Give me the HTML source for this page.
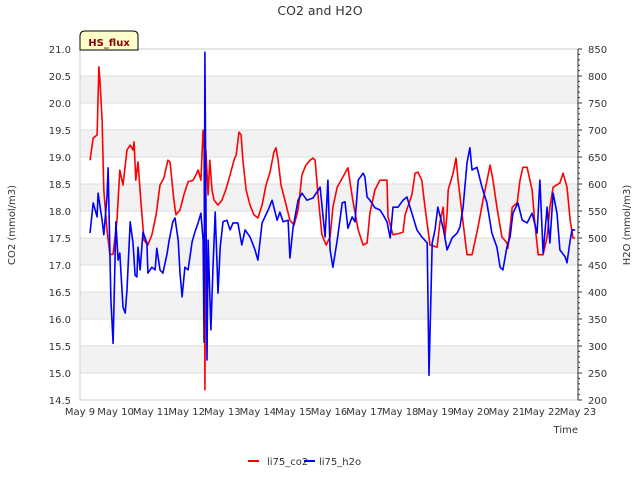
<!DOCTYPE html>
<html><head><meta charset="utf-8"><style>
body{margin:0;background:#fff;}
svg{display:block;font-family:"DejaVu Sans","Liberation Sans",sans-serif;}
</style></head><body>
<svg id="chart" width="640" height="480">
<text x="320" y="15" text-anchor="middle" font-size="12.5" fill="#333">CO2 and H2O</text>
<g id="bands"></g><g id="grid"></g>
<rect x="80" y="49" width="498" height="351" fill="none" stroke="#ccc"/>
<g id="axes"></g>
<g id="series"></g>
<g>
<path d="M80,50 L80,36 Q80,31 85,31 L133,31 Q138,31 138,36 L138,50 Z" fill="#ffffcc" stroke="#000"/>
<text x="109" y="46" text-anchor="middle" font-size="10" font-weight="bold" fill="#8b0000">HS_flux</text>
</g>
<text x="15" y="225" transform="rotate(-90 15 225)" text-anchor="middle" font-size="10" fill="#333">CO2 (mmol/m3)</text>
<text x="630" y="225" transform="rotate(-90 630 225)" text-anchor="middle" font-size="10" fill="#333">H2O (mmol/m3)</text>
<text x="578" y="433" text-anchor="end" font-size="10" fill="#333">Time</text>
<g>
<g><line x1="248" y1="461" x2="259" y2="461" stroke="#f00" stroke-width="2"/><text x="267" y="465" font-size="10" fill="#333">li75_co2</text></g>
<g><line x1="304" y1="461" x2="315" y2="461" stroke="#00f" stroke-width="2"/><text x="319" y="465" font-size="10" fill="#333">li75_h2o</text></g>
</g>
</svg>
<script>
const xTickLabels=["May 9","May 10","May 11","May 12","May 13","May 14","May 15","May 16","May 17","May 18","May 19","May 20","May 21","May 22","May 23"];
const leftTicks=[14.5,15.0,15.5,16.0,16.5,17.0,17.5,18.0,18.5,19.0,19.5,20.0,20.5,21.0];
const rightTicks=[200,250,300,350,400,450,500,550,600,650,700,750,800,850];
const co2Days=[0.28,0.37,0.48,0.53,0.56,0.62,0.67,0.76,0.84,0.93,1.04,1.12,1.21,1.32,1.41,1.49,1.52,1.57,1.63,1.71,1.80,1.91,2.02,2.14,2.25,2.36,2.47,2.53,2.64,2.70,2.81,2.92,3.04,3.18,3.26,3.32,3.40,3.46,3.49,3.51,3.54,3.60,3.65,3.71,3.77,3.88,3.99,4.10,4.22,4.33,4.39,4.47,4.53,4.58,4.67,4.78,4.89,5.00,5.12,5.23,5.34,5.45,5.51,5.57,5.65,5.76,5.90,6.02,6.13,6.24,6.35,6.47,6.55,6.61,6.69,6.80,6.92,7.03,7.11,7.23,7.39,7.53,7.67,7.82,7.96,8.07,8.15,8.29,8.43,8.63,8.66,8.80,9.00,9.08,9.14,9.33,9.42,9.50,9.61,9.70,9.84,10.04,10.12,10.21,10.26,10.32,10.35,10.49,10.57,10.63,10.77,10.88,11.02,11.05,11.19,11.33,11.53,11.61,11.72,11.86,12.00,12.03,12.15,12.29,12.37,12.45,12.57,12.71,12.79,12.88,13.02,13.13,13.21,13.30,13.49,13.58,13.69,13.78,13.86,13.92];
const co2Values=[18.94,19.35,19.41,20.67,20.43,19.69,18.39,17.65,17.19,17.20,17.83,18.76,18.48,19.13,19.22,19.13,19.28,18.57,18.91,18.20,17.46,17.37,17.56,17.93,18.48,18.61,18.94,18.91,18.20,17.93,18.02,18.30,18.54,18.57,18.67,18.76,18.57,19.50,19.13,14.69,19.13,18.30,18.94,18.39,18.20,18.11,18.20,18.39,18.67,18.94,19.04,19.46,19.41,18.94,18.39,18.11,17.93,17.87,18.11,18.48,18.72,19.09,19.17,18.94,18.48,18.20,17.83,17.74,18.02,18.67,18.85,18.94,18.98,18.94,18.30,17.56,17.37,17.52,18.07,18.44,18.63,18.80,18.20,17.65,17.37,17.41,17.96,18.39,18.57,18.57,17.89,17.56,17.59,17.61,17.93,18.30,18.70,18.72,18.57,18.07,17.37,17.33,17.80,18.07,17.52,17.96,18.39,18.70,18.98,18.57,17.78,17.19,17.19,17.28,17.70,18.20,18.85,18.57,18.07,17.52,17.41,17.31,18.07,18.15,18.57,18.81,18.81,18.39,17.74,17.19,17.19,17.52,18.07,18.44,18.52,18.70,18.44,17.83,17.50,17.50];
const h2oDays=[0.28,0.37,0.48,0.51,0.62,0.67,0.76,0.79,0.87,0.93,1.01,1.07,1.12,1.21,1.27,1.32,1.41,1.49,1.55,1.60,1.63,1.69,1.77,1.88,1.91,2.02,2.11,2.16,2.25,2.33,2.45,2.50,2.61,2.67,2.76,2.81,2.87,2.95,3.04,3.15,3.23,3.32,3.40,3.46,3.49,3.51,3.57,3.60,3.68,3.74,3.80,3.85,3.88,3.94,4.02,4.13,4.22,4.30,4.44,4.55,4.64,4.78,4.92,5.00,5.12,5.29,5.40,5.54,5.62,5.71,5.85,5.90,5.99,6.13,6.24,6.38,6.55,6.75,6.89,6.97,7.03,7.11,7.23,7.37,7.45,7.53,7.65,7.73,7.82,7.96,8.01,8.07,8.15,8.29,8.43,8.52,8.63,8.72,8.80,8.94,9.08,9.19,9.33,9.47,9.61,9.76,9.81,9.90,9.98,10.06,10.21,10.32,10.46,10.60,10.68,10.77,10.88,10.96,11.02,11.16,11.30,11.44,11.58,11.72,11.81,11.89,12.00,12.09,12.17,12.31,12.43,12.57,12.71,12.85,12.93,13.02,13.13,13.21,13.30,13.41,13.49,13.64,13.69,13.78,13.83,13.92];
const h2oValues=[509,565,539,583,533,506,576,630,385,305,530,459,472,372,361,404,530,491,431,428,483,441,511,491,435,446,441,481,441,435,472,493,530,537,496,435,391,446,441,493,511,528,546,496,307,844,274,496,330,446,548,459,398,483,530,533,515,528,528,487,515,502,478,459,528,552,570,533,548,530,533,463,520,570,583,570,574,594,502,607,478,446,496,565,567,518,539,530,607,620,613,576,570,556,552,543,530,500,557,557,570,576,546,515,502,491,246,491,515,557,518,478,500,509,520,557,639,667,626,631,594,565,509,483,446,441,483,502,546,565,533,528,546,509,607,472,557,491,583,546,478,465,454,496,515,515];

const NS="http://www.w3.org/2000/svg";
const X0=80,X1=578,Y0=49,Y1=400;
function xs(d){return X0+d*(X1-X0)/14;}
function yl(v){return Y0+(21-v)*(Y1-Y0)/6.5;}
function yr(v){return Y0+(850-v)*(Y1-Y0)/650;}
function mk(tag,attrs,parent){const e=document.createElementNS(NS,tag);for(const k in attrs)e.setAttribute(k,attrs[k]);parent.appendChild(e);return e;}
const bands=document.getElementById('bands'),grid=document.getElementById('grid'),axes=document.getElementById('axes'),series=document.getElementById('series');
for(let i=0;i<leftTicks.length-1;i++){
  if(i%2===1){
    const r=mk('rect',{x:X0,y:yl(leftTicks[i+1]),width:X1-X0,height:yl(leftTicks[i])-yl(leftTicks[i+1]),fill:'#f2f2f2'},bands);
    
    
  }
}
leftTicks.forEach(v=>{
  const y=yl(v);
  const g=mk('line',{x1:X0,x2:X1,y1:y,y2:y,stroke:'#ddd'},grid);
  
  
  const t=mk('text',{x:X0-9,y:y+4,'text-anchor':'end','font-size':'10',fill:'#333'},axes);
  t.textContent=v.toFixed(1);
  
  
});
rightTicks.forEach(v=>{
  const y=yr(v);
  mk('line',{x1:X1,x2:X1+4,y1:y,y2:y,stroke:'#333'},axes);
  const t=mk('text',{x:X1+10,y:y+4,'font-size':'10',fill:'#333'},axes);
  t.textContent=v;
  
  
});
for(let v=200;v<=850;v+=10){const y=yr(v);mk('line',{x1:X1,x2:X1+2,y1:y,y2:y,stroke:'#333'},axes);}
mk('line',{x1:X1,x2:X1,y1:Y0,y2:Y1,stroke:'#333'},axes);
xTickLabels.forEach((s,i)=>{
  const x=xs(i);
  const t=mk('text',{x:x,y:Y1+15,'text-anchor':'middle','font-size':'10',fill:'#333'},axes);
  t.textContent=s;
  
  
});
function line(days,vals,yf,color,name){
  const p=mk('polyline',{points:days.map((d,i)=>xs(d).toFixed(1)+','+yf(vals[i]).toFixed(1)).join(' '),fill:'none',stroke:color,'stroke-width':'1.6','stroke-linejoin':'round'},series);
  
  
}
line(co2Days,co2Values,yl,'#f00','co2-line');
line(h2oDays,h2oValues,yr,'#00f','h2o-line');
</script>
</body></html>
